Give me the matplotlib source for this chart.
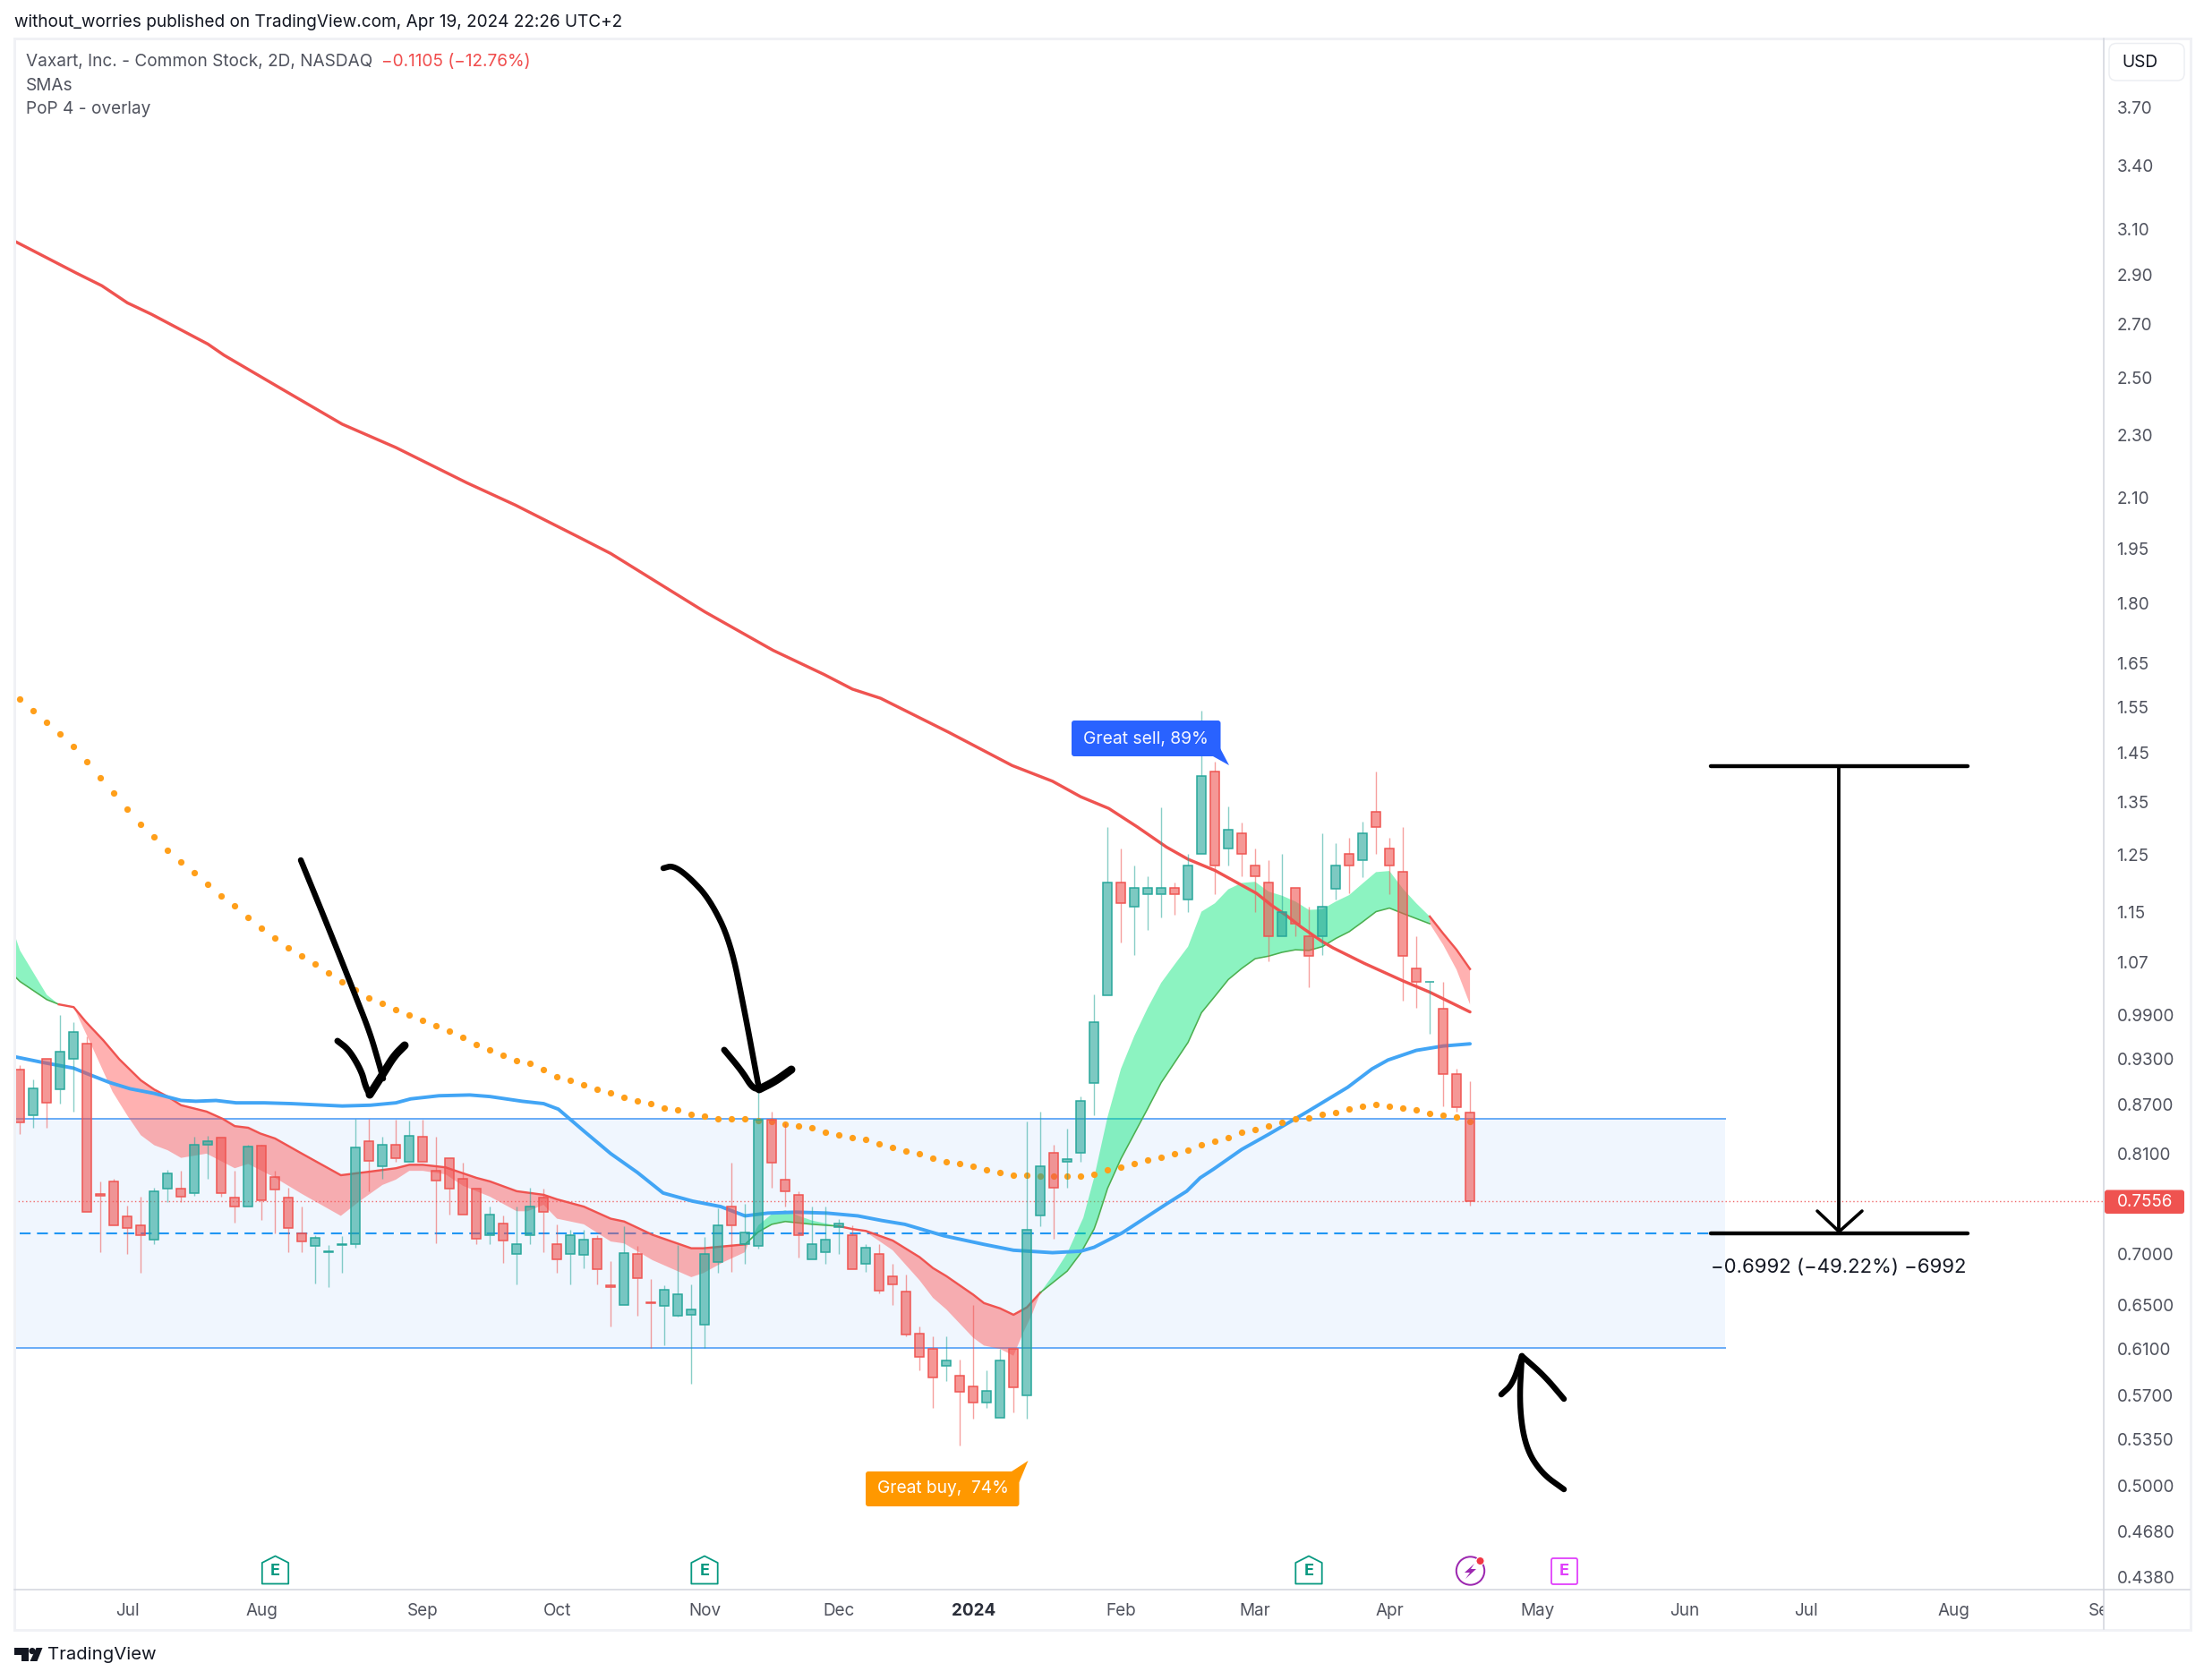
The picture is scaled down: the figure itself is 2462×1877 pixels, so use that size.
import matplotlib
matplotlib.use('Agg')
import matplotlib.pyplot as plt
from matplotlib.lines import Line2D
from matplotlib.patches import Polygon, FancyBboxPatch, Circle, Rectangle
from matplotlib.transforms import Affine2D, Bbox
from matplotlib.ticker import NullLocator, NullFormatter

plt.rcParams['font.family'] = ['Inter', 'DejaVu Sans']

# ---- candles (open, high, low, close), one per 2-day bar ----
opens = [.915,.856,.929,.889,.930,.950,.764,.778,.739,.730,.715,.770,.770,.765,.820,.829,.760,.750,
         .819,.783,.760,.721,.708,.702,.709,.710,.825,.795,.820,.800,.830,.790,.805,.781,.770,.720,
         .732,.700,.720,.760,.710,.700,.699,.716,.669,.650,.700,.653,.649,.640,.641,.632,.692,.750,
         .710,.708,.851,.780,.763,.695,.702,.728,.720,.690,.700,.678,.663,.624,.610,.595,.587,.578,
         .564,.552,.610,.570,.740,.811,.800,.811,
         .898,1.020,1.200,1.160,1.180,1.180,1.191,1.171,1.251,1.410,1.261,1.290,1.230,1.200,1.110,1.191,
         1.110,1.110,1.190,1.251,1.240,1.330,1.261,1.220,1.060,1.039,1.000,.909,.860]
highs = [.921,.902,.929,.990,.980,.960,.778,.781,.751,.761,.771,.791,.790,.830,.831,.829,.790,.820,
         .820,.790,.771,.750,.720,.709,.719,.852,.852,.830,.851,.850,.851,.830,.805,.799,.770,.750,
         .740,.750,.771,.770,.731,.725,.725,.720,.693,.729,.708,.675,.669,.709,.670,.718,.748,.799,
         .753,.890,.861,.846,.767,.750,.750,.737,.730,.710,.710,.690,.680,.630,.621,.621,.601,.650,
         .591,.610,.610,.849,.861,.820,.840,.880,
         1.021,1.302,1.261,1.230,1.212,1.339,1.200,1.252,1.541,1.431,1.341,1.310,1.261,1.240,1.252,1.191,
         1.160,1.290,1.271,1.281,1.311,1.410,1.281,1.302,1.111,1.040,1.040,.916,.900]
lows = [.833,.841,.841,.871,.861,.744,.702,.730,.700,.681,.710,.755,.755,.762,.781,.761,.733,.750,
        .736,.721,.702,.702,.671,.667,.681,.707,.767,.781,.801,.800,.800,.711,.741,.741,.710,.710,
        .691,.670,.710,.702,.681,.670,.686,.670,.630,.650,.640,.611,.613,.639,.580,.611,.681,.682,
        .690,.706,.771,.750,.697,.695,.690,.700,.685,.682,.661,.650,.621,.591,.560,.582,.530,.551,
        .560,.552,.556,.551,.729,.716,.771,.801,
        .856,1.020,1.101,1.081,1.121,1.141,1.146,1.151,1.251,1.181,1.230,1.212,1.151,1.071,1.110,1.111,
        1.031,1.081,1.172,1.182,1.210,1.252,1.181,1.011,1.001,.964,.868,.861,.751]
closes = [.848,.891,.872,.939,.966,.744,.762,.730,.727,.720,.767,.787,.761,.820,.825,.765,.750,.818,
          .757,.769,.727,.713,.717,.703,.710,.817,.802,.821,.805,.831,.800,.779,.770,.741,.716,.741,
          .714,.710,.750,.744,.695,.720,.715,.685,.667,.701,.676,.652,.665,.660,.646,.700,.730,.730,
          .722,.851,.799,.767,.720,.710,.715,.732,.685,.707,.664,.670,.623,.603,.585,.600,.573,.564,
          .574,.600,.577,.725,.795,.771,.804,.874,
          .980,1.200,1.165,1.191,1.191,1.191,1.180,1.230,1.401,1.230,1.296,1.251,1.211,1.110,1.150,1.131,
          1.080,1.160,1.230,1.230,1.290,1.301,1.230,1.080,1.040,1.040,.909,.866,.7556]
# candle colours come from the picture (a flat-looking bar keeps its drawn colour)
sides = "rgrggrrrrrggrggrrgrrrrggggrgrgrrrrrgrggrrggrrgrrgggggrggrrrgggrgrrrrrgrrggrggrggggrgggrggrgrrrgrrggrgrrrrgrrr"

# ---- orange dotted average, one value per bar ----
dots = [1.5664,1.5402,1.5144,1.4890,1.4621,1.4302,1.3971,1.3666,1.3350,1.3058,1.2823,1.2575,1.2364,1.2173,1.1969,
        1.1774,1.1602,1.1407,1.1231,1.1071,1.0924,1.0787,1.0662,1.0524,1.0388,1.0267,1.0148,1.0069,.9978,.9900,
        .9823,.9747,.9671,.9584,.9485,.9411,.9338,.9277,.9229,.9150,.9059,.9004,.8946,.8888,.8842,.8792,.8739,.8705,
        .8656,.8626,.8581,.8548,.8522,.8515,.8515,.8500,.8482,.8456,.8434,.8405,.8361,.8325,.8296,.8264,.8218,.8175,
        .8133,.8094,.8049,.8010,.7979,.7948,.7912,.7876,.7854,.7847,.7843,.7836,.7836,.7843,.7865,.7909,.7938,.7979,
        .8023,.8053,.8094,.8136,.8200,.8246,.8296,.8354,.8393,.8436,.8475,.8515,.8534,.8574,.8602,.8638,.8674,.8694,
        .8682,.8658,.8626,.8590,.8570,.8538,.8491]

# ---- averages as (bar, price) ----
sma_red = [(-0.4,3.047),(4.2,2.909),(6.1,2.856),(8.0,2.786),(9.8,2.740),(14.0,2.624),(15.2,2.582),(19.3,2.464),
           (24.0,2.336),(28.0,2.258),(33.3,2.145),(36.9,2.077),(41.6,1.983),(44.0,1.936),(51.0,1.779),(56.1,1.682),
           (59.9,1.624),(62.0,1.590),(64.1,1.569),(69.2,1.493),(73.9,1.423),(76.9,1.391),(79.0,1.360),(81.1,1.337),
           (83.2,1.302),(85.4,1.264),(87.0,1.242),(89.0,1.222),(91.0,1.196),(92.1,1.182),(93.2,1.162),(94.3,1.145),
           (95.4,1.126),(97.0,1.102),(97.8,1.092),(100.1,1.068),(103.0,1.041),(105.0,1.024),(108.0,.995)]
sma_blue = [(-0.3,.932),(1.6,.925),(4.0,.917),(5.1,.909),(6.7,.898),(8.2,.890),(10,.884),(12,.875),(13.1,.874),
            (14.6,.875),(16.1,.872),(18.2,.872),(20.2,.871),(24.0,.868),(26.1,.869),(28,.872),(29.1,.877),(31.2,.881),
            (33.5,.882),(35,.880),(37,.875),(37.4,.874),(39,.871),(40.1,.864),(42,.837),(44,.810),(46,.788),(47.9,.765),
            (50.1,.756),(52.2,.750),(54,.740),(55.7,.743),(57.8,.744),(60.1,.743),(62.4,.740),(64.2,.735),(65.9,.731),
            (68.8,.719),(71.8,.710),(74,.704),(76.9,.7015),(79,.703),(80,.707),(82.1,.722),(85.4,.753),(86.9,.767),
            (87.9,.782),(88.9,.792),(91,.815),(93,.833),(95.8,.860),(98.9,.892),(100.7,.916),(101.9,.928),(104,.941),
            (106,.947),(108,.950)]

# ---- PoP cloud: (bar, price) for each edge of each stretch ----
g0_top = [(-0.3,1.107),(0,1.088),(2,1.020),(2.9,1.006)]
g0_bot = [(-0.3,1.046),(0,1.040),(2,1.013),(2.9,1.006)]
p1_top = [(2.9,1.006),(4,1.002),(4.9,.981),(6.2,.955),(7.4,.929),(9,.901),(10,.889),(11,.880),(12,.869),(13.9,.861),
          (15.1,.852),(16,.843),(17,.841),(17.9,.834),(19,.828),(21,.810),(23.9,.785),(26,.789),(28,.793),(29,.797),
          (30,.797),(31.7,.794),(34,.782),(35,.778),(37,.767),(39,.763),(40,.758),(42,.750),(44,.737),(45,.734),
          (47.1,.720),(50,.706),(50.9,.706),(54,.710)]
p1_bot = [(2.9,1.006),(4,1.002),(5.4,.945),(6.9,.886),(8,.856),(9,.832),(10,.820),(11,.814),(12,.805),(13.9,.810),
          (16,.793),(17,.798),(18.9,.783),(21,.764),(23.9,.740),(25.3,.756),(27,.774),(28,.780),(29,.790),(30,.790),
          (31.7,.786),(33,.773),(35,.761),(37,.745),(37.8,.745),(39,.752),(40,.737),(42,.731),(44,.713),(45,.711),
          (47.1,.694),(50,.677),(50.9,.681),(52.4,.692),(54,.702),(54.3,.713)]
g1_top = [(54.3,.713),(55,.730),(56,.742),(57,.746),(58,.740),(59,.735),(61,.729)]
g1_bot = [(54,.710),(55,.723),(56,.731),(57,.734),(59,.731),(61,.729)]
p2_top = [(61,.729),(62,.726),(63,.724),(65,.714),(67,.697),(68,.686),(69,.678),(71,.660),(71.8,.652),(73,.647),
          (74,.641),(75,.648),(76,.662)]
p2_bot = [(61,.729),(63,.723),(65,.704),(67,.674),(68,.657),(69,.646),(71,.620),(71.8,.613),(73,.610),(74,.604),
          (74.7,.624),(75.4,.642),(76,.662)]
g2_top = [(76,.662),(77,.680),(78,.701),(79.2,.738),(80,.782),(81,.854),(82,.916),(83,.961),(84,1.001),(85,1.038),
          (86,1.066),(87,1.094),(88,1.151),(89,1.165),(90,1.189),(91,1.200),(92,1.202),(93,1.185),(94,1.178),(95,1.168),
          (96,1.154),(97,1.155),(98,1.168),(99,1.179),(100,1.199),(101,1.219),(102,1.221),(103,1.190),(104,1.165),(105,1.143)]
g2_bot = [(76,.662),(78,.683),(79,.701),(80,.726),(80.3,.738),(81,.770),(82,.804),(84,.865),(85,.898),(87,.952),
          (88,.994),(89,1.018),(90,1.043),(91,1.060),(92,1.075),(93,1.079),(94,1.085),(95,1.089),(96,1.088),(97,1.094),
          (98,1.107),(99,1.118),(100,1.134),(101,1.151),(102,1.157),(103,1.148),(105,1.131)]
p3_top = [(105,1.143),(106,1.115),(107,1.089),(108,1.059)]
p3_bot = [(105,1.131),(106,1.097),(107,1.058),(108,1.006)]

# ---- levels and axis labels ----
box_top, box_mid, box_bottom = .852, .7213, .6106
last_price = .7556
y_ticks = [3.70,3.40,3.10,2.90,2.70,2.50,2.30,2.10,1.95,1.80,1.65,1.55,1.45,1.35,1.25,1.15,1.07,.99,.93,.87,.81,.70,.65,.61,.57,.535,.50,.468,.438]
y_labels = ['3.70','3.40','3.10','2.90','2.70','2.50','2.30','2.10','1.95','1.80','1.65','1.55','1.45','1.35','1.25','1.15','1.07',
            '0.9900','0.9300','0.8700','0.8100','0.7000','0.6500','0.6100','0.5700','0.5350','0.5000','0.4680','0.4380']
x_ticks = [8,18,30,40,51,61,71,82,92,102,113,124,133,144,155.2]
x_labels = ['Jul','Aug','Sep','Oct','Nov','Dec','2024','Feb','Mar','Apr','May','Jun','Jul','Aug','Sep']

W, H = 2462, 1877
UP, DOWN = '#26a69a', '#ef5350'
AX_TEXT = '#50535e'
fig = plt.figure(figsize=(W/100, H/100), dpi=100, facecolor='white')
ax = fig.add_axes([16/W, 1-1776/H, (2350-16)/W, (1776-43)/H])
px = Affine2D().scale(1, -1).translate(0, H)   # pixel layout helper for page furniture
pt = 0.72

ax.set_yscale('log')
ax.set_xlim(-0.42, 155.18)
ax.set_ylim(.4301, 4.0895)
ax.set_frame_on(False)
ax.yaxis.tick_right()
ax.yaxis.set_minor_locator(NullLocator())
ax.yaxis.set_minor_formatter(NullFormatter())
ax.set_yticks(y_ticks, y_labels)
ax.set_xticks(x_ticks, x_labels)
ax.tick_params(axis='y', length=0, pad=10.5, labelsize=13.6, labelcolor=AX_TEXT)
ax.tick_params(axis='x', length=0, pad=10.5, labelsize=13.6, labelcolor=AX_TEXT)
ax.patch.set_alpha(0)
labs = ax.get_xticklabels()
labs[6].set_fontweight('bold')
labs[6].set_color('#2a2e39')
labs[-1].set_clip_on(True)
labs[-1].set_clip_box(Bbox([[0, 0], [2350, H]]))

# position box with its levels
x_left = ax.get_xlim()[0]
ax.fill_between([x_left, 127.0], [box_bottom]*2, [box_top]*2, color='#f0f6fe', lw=0, zorder=1)
ax.plot([x_left, 127.0], [box_top]*2, color='#6cadf7', lw=2*pt, zorder=1.2)
ax.plot([x_left, 127.0], [box_bottom]*2, color='#6cadf7', lw=2*pt, zorder=1.2)
ax.plot([0, 126.0], [box_mid]*2, color='#2196f3', lw=2.1*pt, dashes=(5.8, 3.4), zorder=1.2)
ax.axhline(last_price, color='#f0686a', lw=1.4*pt, dashes=(1.0, 2.0), zorder=1.3)


def cloud(top, bot, color, edge, edge_pts, edge_w):
    xs = [p[0] for p in top] + [p[0] for p in bot][::-1]
    ys = [p[1] for p in top] + [p[1] for p in bot][::-1]
    ax.fill(xs, ys, color=color, alpha=.45, lw=0, zorder=2)
    ax.plot([p[0] for p in edge_pts], [p[1] for p in edge_pts], color=edge, lw=edge_w*pt, zorder=2.2)


RED_CLOUD, GREEN_CLOUD = '#ff5252', '#00e676'
EDGE_G = '#4caf50'
cloud(g0_top, g0_bot, GREEN_CLOUD, EDGE_G, g0_bot, 1.6)
cloud(p1_top, p1_bot, RED_CLOUD, DOWN, p1_top, 2.4)
cloud(g1_top, g1_bot, GREEN_CLOUD, EDGE_G, g1_bot, 1.6)
cloud(p2_top, p2_bot, RED_CLOUD, DOWN, p2_top, 2.4)
cloud(g2_top, g2_bot, GREEN_CLOUD, EDGE_G, g2_bot, 1.6)
cloud(p3_top, p3_bot, RED_CLOUD, DOWN, p3_top, 2.4)

ax.plot(*zip(*sma_red), color=DOWN, lw=3.4*pt, zorder=3, solid_capstyle='round')
ax.plot(*zip(*sma_blue), color='#42a5f5', lw=3.9*pt, zorder=3, solid_capstyle='round')
ax.plot(range(len(dots)), dots, ls='none', marker='o', ms=5.2, mec='none', mfc='#ff9f1a', zorder=3)

# candles
for i, (o, h, l, c, s) in enumerate(zip(opens, highs, lows, closes, sides)):
    col = UP if s == 'g' else DOWN
    top, bot = max(o, c), min(o, c)
    ax.vlines(i, top, h, color=col, lw=1.4*pt, alpha=.55, zorder=4)
    ax.vlines(i, l, bot, color=col, lw=1.4*pt, alpha=.55, zorder=4)
    fc = (0.149, 0.651, 0.604, .6) if s == 'g' else (0.937, 0.325, 0.314, .6)
    ax.bar(i, top-bot, bottom=bot, width=.68, facecolor=fc, edgecolor=col, linewidth=1.5*pt, zorder=4.2)


# ---- page furniture in pixel layout ----
def pline(xs, ys, color, w, z=5, **k):
    fig.add_artist(Line2D(xs, ys, transform=px, color=color, lw=w*pt, zorder=z, **k))


def ptext(x, y, s, color='#131722', size=13.6, ha='left', va='center', **k):
    fig.text(x, y, s, transform=px, color=color, fontsize=size, ha=ha, va=va, **k)


fig.add_artist(Rectangle((15.5, 43), 2431, 1778, transform=px, fc='none', ec='#f0f1f5', lw=3*pt, zorder=1))
pline([2350, 2350], [43, 1820], '#d1d4dc', 1.5)
pline([16, 2446], [1776, 1776], '#d1d4dc', 1.5)

ptext(16, 25, 'without_worries published on TradingView.com, Apr 19, 2024 22:26 UTC+2', size=13.7)
ptext(29, 69, 'Vaxart, Inc. - Common Stock, 2D, NASDAQ', color='#50535e', size=13.7)
ptext(426, 69, '\u22120.1105 (\u221212.76%)', color='#f04d4d', size=13.7)
ptext(29, 96, 'SMAs', color='#50535e', size=13.7)
ptext(29, 122, 'PoP 4 - overlay', color='#50535e', size=13.7)

fig.add_artist(FancyBboxPatch((2356, 48.5), 84, 41.5, boxstyle='round,pad=0,rounding_size=8', transform=px,
                              fc='white', ec='#eceef2', lw=1.5*pt, zorder=3))
ptext(2390, 70, 'USD', ha='center', size=13.8)

fig.add_artist(FancyBboxPatch((2351, 1329.5), 89, 26.5, boxstyle='round,pad=0,rounding_size=3', transform=px,
                              fc=DOWN, ec='none', zorder=3))
ptext(2365, 1343, '0.7556', color='white', size=13.6)

# signal labels
fig.add_artist(FancyBboxPatch((1197, 805), 166.5, 40, boxstyle='round,pad=0,rounding_size=3', transform=px,
                              fc='#2962ff', ec='none', zorder=3))
fig.add_artist(Polygon([(1363, 836), (1373, 855), (1355, 845)], transform=px, fc='#2962ff', ec='none', zorder=3))
ptext(1280, 825.5, 'Great sell, 89%', color='#f4f6ff', ha='center', size=13.9)
fig.add_artist(FancyBboxPatch((967, 1644), 171.5, 39, boxstyle='round,pad=0,rounding_size=3', transform=px,
                              fc='#ff9800', ec='none', zorder=3))
fig.add_artist(Polygon([(1130, 1644), (1148.5, 1632), (1138.5, 1656)], transform=px, fc='#ff9800', ec='none', zorder=3))
ptext(1053, 1663.5, 'Great buy,  74%', color='white', ha='center', size=13.8)

# measuring tool drawn on the chart
pline([1911, 2198], [856, 856], 'black', 4.4, solid_capstyle='round')
pline([1911, 2198], [1377.8, 1377.8], 'black', 4.4, solid_capstyle='round')
pline([2054.4, 2054.4], [856, 1377.8], 'black', 3.8)
pline([2030, 2054.4, 2080], [1353, 1376, 1353], 'black', 3.6, solid_capstyle='round', solid_joinstyle='miter')
ptext(2054, 1416, '\u22120.6992 (\u221249.22%) \u22126992', ha='center', size=15.9)


# hand-drawn arrows (pen strokes, rounded off the way a pen does)
def round_off(xs, ys, times=3):
    pts = list(zip(xs, ys))
    for _ in range(times):
        new = [pts[0]]
        for a, b in zip(pts, pts[1:]):
            new += [(.75*a[0]+.25*b[0], .75*a[1]+.25*b[1]), (.25*a[0]+.75*b[0], .25*a[1]+.75*b[1])]
        new.append(pts[-1])
        pts = new
    return [p[0] for p in pts], [p[1] for p in pts]


def stroke(xs, ys, w=7):
    sx, sy = round_off(xs, ys)
    pline(sx, sy, 'black', w, solid_capstyle='round', solid_joinstyle='round')


stroke([336, 352, 367, 379, 396, 413, 423, 428], [961, 1000, 1037, 1067, 1110, 1153, 1187, 1205], 6.5)
stroke([377, 390, 404, 408, 413], [1163, 1173, 1197, 1213, 1223], 7)
stroke([413, 429, 440, 452], [1223, 1198, 1180, 1168], 9)
stroke([741, 752, 770, 793, 816, 832, 845, 848], [970, 967, 980, 1005, 1052, 1131, 1201, 1217], 6.5)
stroke([809, 829, 840, 848], [1173, 1197, 1215, 1217], 7)
stroke([848, 866, 884], [1217, 1208, 1195], 9)
stroke([1747, 1722, 1704, 1697, 1700], [1664, 1646, 1617, 1570, 1515], 6.5)
stroke([1677, 1690, 1700], [1558, 1546, 1515], 6.5)
stroke([1700, 1725, 1747], [1515, 1537, 1563], 6.5)


# calendar icons
def house(cx, color):
    l, r, t, sh, b = cx-14.7, cx+14.7, 1738.5, 1746, 1769.5
    fig.add_artist(Polygon([(l, b), (l, sh), (cx, t), (r, sh), (r, b)], closed=True, transform=px, fc='white',
                           ec=color, lw=1.8*pt, joinstyle='round', zorder=3))
    ptext(cx, 1755, 'E', color=color, ha='center', size=13, fontweight='bold')


house(307.5, '#089981')
house(787, '#089981')
house(1462, '#089981')
fig.add_artist(FancyBboxPatch((1733, 1741), 29, 29, boxstyle='round,pad=0,rounding_size=2', transform=px, fc='white',
                              ec='#e040fb', lw=1.8*pt, zorder=3))
ptext(1747.5, 1755.5, 'E', color='#e040fb', ha='center', size=13, fontweight='bold')
fig.add_artist(Circle((1642.5, 1755), 15.7, transform=px, fc='white', ec='#9c27b0', lw=2*pt, zorder=3))
fig.add_artist(Polygon([(1647, 1747), (1636, 1757), (1642, 1757), (1637, 1764), (1649, 1753), (1643, 1753)],
                       transform=px, fc='#9c27b0', ec='none', zorder=4))
fig.add_artist(Circle((1653.5, 1744), 4.5, transform=px, fc='#f23645', ec='white', lw=1*pt, zorder=4))

# footer brand
brand = '#131722'
fig.add_artist(Polygon([(16, 1841), (32, 1841), (32, 1856), (24, 1856), (24, 1849), (16, 1849)], transform=px, fc=brand, ec='none', zorder=3))
fig.add_artist(Circle((36, 1844.6), 3.6, transform=px, fc=brand, ec='none', zorder=3))
fig.add_artist(Polygon([(40.5, 1841), (47.5, 1841), (41.5, 1856), (33.5, 1856)], transform=px, fc=brand, ec='none', zorder=3))
ptext(53, 1849, 'TradingView', color=brand, size=14.6)

fig.savefig('out.png', dpi=100)
